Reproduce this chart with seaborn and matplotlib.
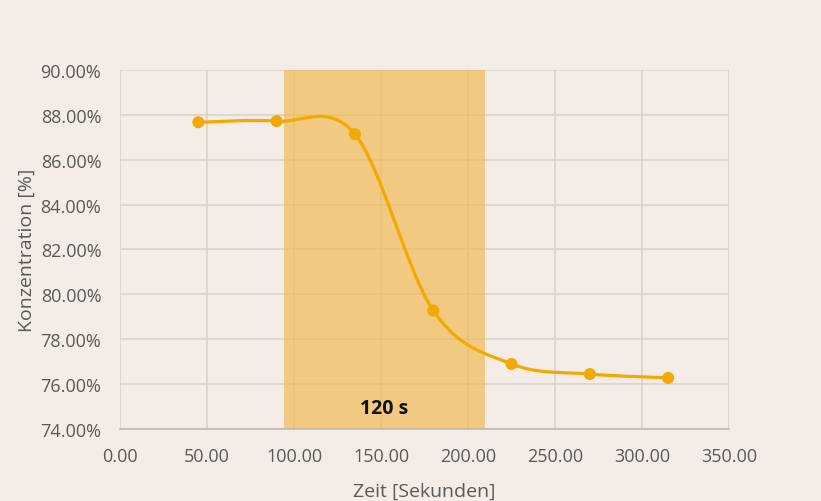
import numpy as np
import pandas as pd
import matplotlib
matplotlib.use("Agg")
import matplotlib.pyplot as plt
from matplotlib.path import Path
from matplotlib.patches import PathPatch
from matplotlib.ticker import FuncFormatter, MultipleLocator
import seaborn as sns

# Data
zeit = [45, 90, 135, 180, 225, 270, 315]
konzentration = [87.67, 87.72, 87.14, 79.28, 76.90, 76.45, 76.28]
shade_start, shade_end = 94, 210
shade_label = "120 s"
x_label = "Zeit [Sekunden]"
y_label = "Konzentration [%]"

df = pd.DataFrame({"Zeit": zeit, "Konzentration": konzentration})

bg = "#F4EDE7"
sns.set_theme(style="white")
plt.rcParams['font.family'] = ['Open Sans', 'DejaVu Sans']

fig = plt.figure(figsize=(8.21, 5.02), dpi=100, facecolor=bg)
ax = fig.add_axes([0.1462, 0.1434, 0.888 - 0.1462, 0.8586 - 0.1434])
ax.set_facecolor(bg)

ax.set_xlim(0, 350)
ax.set_ylim(74, 90)
ax.xaxis.set_major_locator(MultipleLocator(50))
ax.yaxis.set_major_locator(MultipleLocator(2))
ax.grid(True, color="#D8D1CB", linewidth=1.1, zorder=0)
ax.set_axisbelow(True)

ax.axvspan(shade_start, shade_end, color="#F0B850", alpha=0.68, lw=0, zorder=1)

# Smoothed line (Excel-like Catmull-Rom Bezier)
xs = np.array(zeit, float)
ys = np.array(konzentration, float)
n = len(xs)
verts = [(xs[0], ys[0])]
codes = [Path.MOVETO]
for i in range(n - 1):
    p0 = np.array([xs[max(i - 1, 0)], ys[max(i - 1, 0)]])
    p1 = np.array([xs[i], ys[i]])
    p2 = np.array([xs[i + 1], ys[i + 1]])
    p3 = np.array([xs[min(i + 2, n - 1)], ys[min(i + 2, n - 1)]])
    c1 = p1 + (p2 - p0) / 6
    c2 = p2 - (p3 - p1) / 6
    verts += [tuple(c1), tuple(c2), tuple(p2)]
    codes += [Path.CURVE4] * 3
patch = PathPatch(Path(verts, codes), fill=False, edgecolor="#F2A900", lw=2.3,
                  transform=ax.transData, zorder=3, capstyle="round")
ax.add_patch(patch)

sns.scatterplot(data=df, x="Zeit", y="Konzentration", ax=ax, color="#F2A900",
                s=75, edgecolor="none", zorder=4, legend=False)

ax.text((shade_start + shade_end) / 2 - 0.5, 74.95, shade_label, ha="center", va="center",
        fontsize=14, fontweight="bold", color="#111111", zorder=5)

ax.yaxis.set_major_formatter(FuncFormatter(lambda v, p: f"{v:.2f}%"))
ax.xaxis.set_major_formatter(FuncFormatter(lambda v, p: f"{v:.2f}"))
ax.tick_params(axis="both", labelsize=13, colors="#595959", length=0)
ax.tick_params(axis="x", pad=13)
ax.tick_params(axis="y", pad=13.5)

for s in ["top", "right", "left"]:
    ax.spines[s].set_visible(False)
ax.spines["bottom"].set_color("#BFBAB5")
ax.spines["bottom"].set_linewidth(1.2)

ax.set_xlabel(x_label, fontsize=14, color="#595959", labelpad=12)
ax.set_ylabel(y_label, fontsize=14, color="#595959", labelpad=3)

fig.savefig("out.png", dpi=100, facecolor=bg)
